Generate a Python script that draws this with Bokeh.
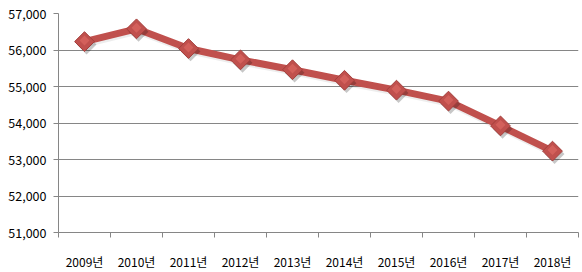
import math
from bokeh.plotting import figure
from bokeh.models import FixedTicker, NumeralTickFormatter, Range1d, ColumnDataSource
from bokeh.embed import file_html
from bokeh.resources import INLINE

years = ["2009년", "2010년", "2011년", "2012년", "2013년", "2014년", "2015년", "2016년", "2017년", "2018년"]
values = [56230, 56580, 56040, 55730, 55460, 55170, 54900, 54600, 53920, 53230]
y_ticks = [51000, 52000, 53000, 54000, 55000, 56000, 57000]

n = len(years)
xs = [i + 0.5 for i in range(n)]
src = ColumnDataSource(dict(x=xs, y=values))

p = figure(width=582, height=272, output_backend="svg", toolbar_location=None,
           x_range=Range1d(0, n), y_range=Range1d(y_ticks[0], y_ticks[-1]),
           min_border_left=58, min_border_right=4, min_border_top=13, min_border_bottom=37)
p.outline_line_color = None
p.background_fill_color = "white"
p.border_fill_color = "white"

font = "Noto Sans CJK KR"

# x axis
p.xaxis.ticker = FixedTicker(ticks=xs, minor_ticks=list(range(n + 1)))
p.xaxis.major_label_overrides = {x: lab for x, lab in zip(xs, years)}
p.xaxis.major_tick_out = 0
p.xaxis.major_tick_in = 0
p.xaxis.minor_tick_out = 5
p.xaxis.minor_tick_in = 0
p.xaxis.minor_tick_line_color = "#868686"
p.xaxis.axis_line_color = "#868686"
p.xaxis.major_label_standoff = 15
p.xaxis.major_label_text_font = font
p.xaxis.major_label_text_font_size = "12px"
p.xaxis.major_label_text_color = "#000000"
p.xgrid.grid_line_color = None

# y axis
p.yaxis.ticker = FixedTicker(ticks=y_ticks, minor_ticks=[])
p.yaxis.formatter = NumeralTickFormatter(format="0,0")
p.yaxis.major_tick_out = 5
p.yaxis.major_tick_in = 0
p.yaxis.major_tick_line_color = "#868686"
p.yaxis.axis_line_color = "#868686"
p.yaxis.major_label_standoff = 7
p.yaxis.major_label_text_font = font
p.yaxis.major_label_text_font_size = "12.5px"
p.yaxis.major_label_text_color = "#000000"
p.ygrid.grid_line_color = "#868686"
p.ygrid.grid_line_width = 1

# line with subtle shadow
p.line([x + 0.02 for x in xs], [v - 60 for v in values], line_color="#000000", line_alpha=0.07, line_width=7)
p.line("x", "y", source=src, line_color="#C0504D", line_width=7)

# marker shadow
p.scatter([x + 0.04 for x in xs], [v - 80 for v in values], marker="square", size=14,
          angle=math.pi / 4, fill_color="#000000", fill_alpha=0.22, line_color=None)
p.scatter("x", "y", source=src, marker="square", size=14, angle=math.pi / 4,
          fill_color="#C0504D", line_color="#A33F3C", line_width=1)
p.scatter([x for x in xs], [v + 30 for v in values], marker="square", size=7,
          angle=math.pi / 4, fill_color="#E06A66", fill_alpha=0.6, line_color=None)

open("out.html", "w").write(file_html(p, INLINE))
